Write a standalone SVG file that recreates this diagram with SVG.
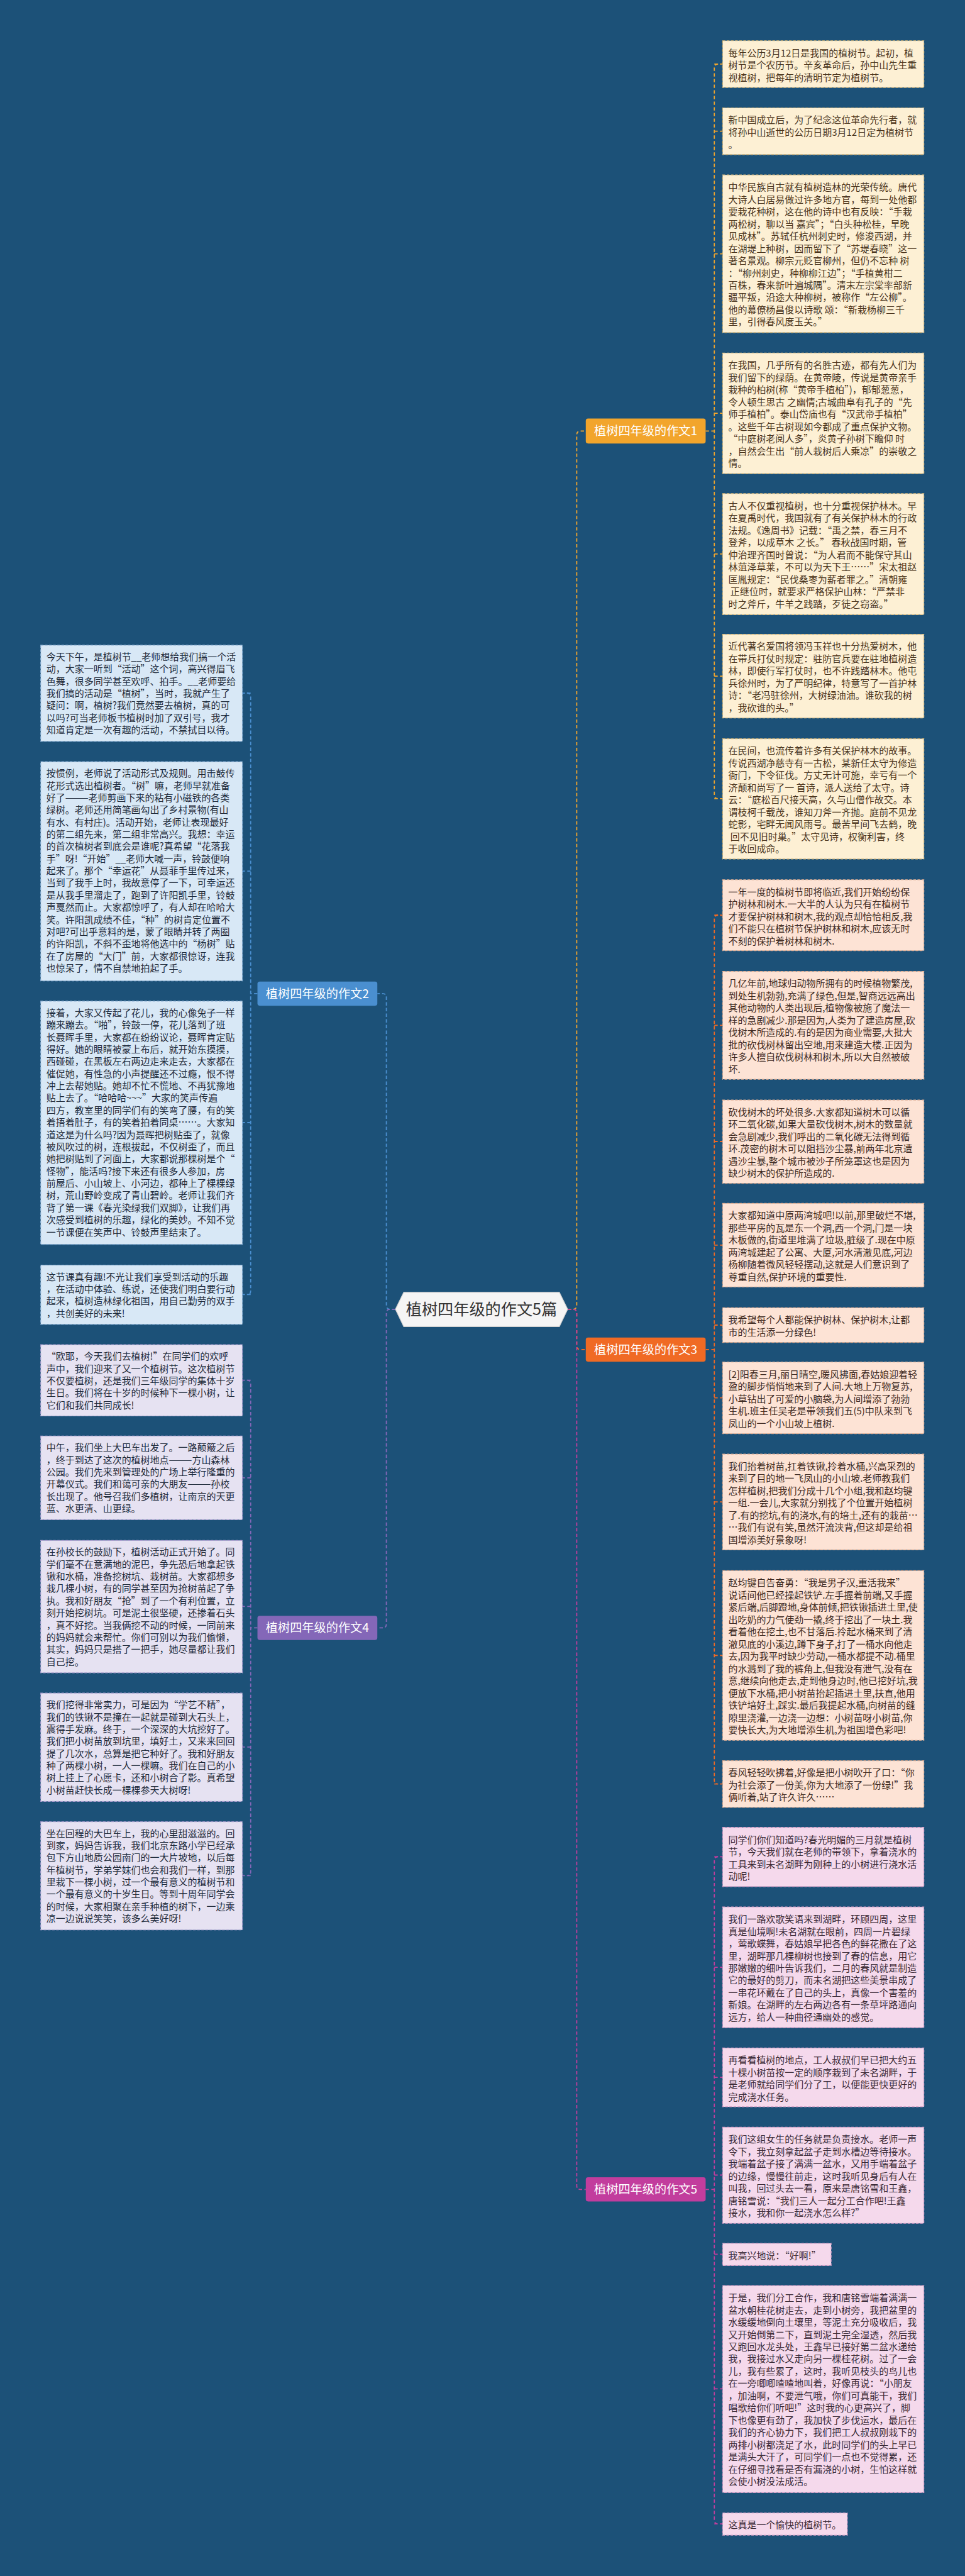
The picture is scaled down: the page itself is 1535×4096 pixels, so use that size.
<svg xmlns="http://www.w3.org/2000/svg" width="1535" height="4096" viewBox="0 0 1535 4096">
<style>
.bg{fill:#1c5178}
.tx{font-family:"Noto Sans CJK SC","Noto Sans",sans-serif;font-size:25px}
.tr{fill:#4a341c}
.tp{fill:#3e2a22}
.tk{fill:#3a2a36}
.tl{fill:#1e2a3a}
.bc{fill:#fdf0d4;stroke:#d8b878;stroke-width:2;stroke-dasharray:7 4}
.bp{fill:#fde3d5;stroke:#e0ad92;stroke-width:2;stroke-dasharray:7 4}
.bk{fill:#f5d9ec;stroke:#d49ac4;stroke-width:2;stroke-dasharray:7 4}
.bb{fill:#d8e8f6;stroke:#8fb4d8;stroke-width:2;stroke-dasharray:7 4}
.bv{fill:#e6e2f2;stroke:#ab9fd0;stroke-width:2;stroke-dasharray:7 4}
.cn{fill:none;stroke-width:3;stroke-dasharray:9 6}
.c1{stroke:#f2a52c}.c2{stroke:#4a8fd0}.c3{stroke:#f06a24}.c4{stroke:#8467b8}.c5{stroke:#c23d9d}
.bn{font-family:"Noto Sans CJK SC","Noto Sans",sans-serif;font-size:32px;fill:#ffffff}
.rt{font-family:"Noto Sans CJK SC","Noto Sans",sans-serif;font-size:42px;fill:#333333}
</style>
<rect class="bg" x="0" y="0" width="1535" height="4096"/>
<g transform="scale(0.5996)">
<g id="connectors">
<path class="cn c1" d="M1506 3472 H1520 Q1530 3472 1530 3462 V1153 Q1530 1143 1540 1143 H1554"/>
<path class="cn c3" d="M1506 3472 H1520 Q1530 3472 1530 3482 V3569 Q1530 3579 1540 3579 H1554"/>
<path class="cn c5" d="M1506 3472 H1520 Q1530 3472 1530 3482 V5796 Q1530 5806 1540 5806 H1554"/>
<path class="cn c2" d="M1049 3472 H1035 Q1025 3472 1025 3462 V2645 Q1025 2635 1015 2635 H1001"/>
<path class="cn c4" d="M1049 3472 H1035 Q1025 3472 1025 3482 V4307 Q1025 4317 1015 4317 H1001"/>
<path class="cn c1" d="M1872 1143 H1895 M1905 170 Q1895 170 1895 180 V2108 Q1895 2118 1905 2118 M1895 170 H1917 M1895 348 H1917 M1895 673 H1917 M1895 1096 H1917 M1895 1469 H1917 M1895 1793 H1917 M1895 2118 H1917"/>
<path class="cn c3" d="M1872 3579 H1895 M1905 2427 Q1895 2427 1895 2437 V4721 Q1895 4731 1905 4731 M1895 2427 H1917 M1895 2719 H1917 M1895 3027 H1917 M1895 3302 H1917 M1895 3514 H1917 M1895 3707 H1917 M1895 3983 H1917 M1895 4390 H1917 M1895 4731 H1917"/>
<path class="cn c5" d="M1872 5806 H1895 M1905 4924 Q1895 4924 1895 4934 V6683 Q1895 6693 1905 6693 M1895 4924 H1917 M1895 5217 H1917 M1895 5509 H1917 M1895 5768 H1917 M1895 5978 H1917 M1895 6335 H1917 M1895 6693 H1917"/>
<path class="cn c2" d="M683 2635 H665 M655 1838 Q665 1838 665 1848 V3423 Q665 3433 655 3433 M665 1838 H643 M665 2310 H643 M665 2977 H643 M665 3433 H643"/>
<path class="cn c4" d="M683 4317 H665 M655 3660 Q665 3660 665 3670 V4964 Q665 4974 655 4974 M665 3660 H643 M665 3919 H643 M665 4260 H643 M665 4633 H643 M665 4974 H643"/>
</g>
<g id="root">
<polygon points="1049,3472 1071,3427 1484,3427 1506,3472 1484,3518 1071,3518" fill="#f5f5f5" stroke="#d0d0d0" stroke-width="2"/>
<text class="rt" x="1277.5" y="3487" text-anchor="middle">植树四年级的作文5篇</text>
</g>
<g id="branch1">
<rect x="1554" y="1110" width="318" height="66" rx="6" fill="#f2a52c"/>
<text class="bn" x="1713" y="1154" text-anchor="middle">植树四年级的作文1</text>
</g>
<g id="branch2">
<rect x="683" y="2603" width="318" height="64" rx="6" fill="#4a8fd0"/>
<text class="bn" x="842" y="2646" text-anchor="middle">植树四年级的作文2</text>
</g>
<g id="branch3">
<rect x="1554" y="3547" width="318" height="64" rx="6" fill="#f06a24"/>
<text class="bn" x="1713" y="3590" text-anchor="middle">植树四年级的作文3</text>
</g>
<g id="branch4">
<rect x="683" y="4285" width="318" height="64" rx="6" fill="#8467b8"/>
<text class="bn" x="842" y="4328" text-anchor="middle">植树四年级的作文4</text>
</g>
<g id="branch5">
<rect x="1554" y="5774" width="318" height="64" rx="6" fill="#c23d9d"/>
<text class="bn" x="1713" y="5817" text-anchor="middle">植树四年级的作文5</text>
</g>
<g id="r1"><rect class="bc" x="1917" y="108" width="534" height="124"/>
<text class="tx tr"><tspan x="1932" y="149.5">每年公历3月12日是我国的植树节。起初，植</tspan><tspan x="1932" dy="32.5">树节是个农历节。辛亥革命后，孙中山先生重</tspan><tspan x="1932" dy="32.5">视植树，把每年的清明节定为植树节。</tspan></text></g>
<g id="r2"><rect class="bc" x="1917" y="286" width="534" height="124"/>
<text class="tx tr"><tspan x="1932" y="327.5">新中国成立后，为了纪念这位革命先行者，就</tspan><tspan x="1932" dy="32.5">将孙中山逝世的公历日期3月12日定为植树节</tspan><tspan x="1932" dy="32.5">。</tspan></text></g>
<g id="r3"><rect class="bc" x="1917" y="464" width="534" height="418"/>
<text class="tx tr"><tspan x="1932" y="505.5">中华民族自古就有植树造林的光荣传统。唐代</tspan><tspan x="1932" dy="32.5">大诗人白居易做过许多地方官，每到一处他都</tspan><tspan x="1932" dy="32.5">要栽花种树，这在他的诗中也有反映：“手栽</tspan><tspan x="1932" dy="32.5">两松树，聊以当 嘉宾”；“白头种松桂，早晚</tspan><tspan x="1932" dy="32.5">见成林”。苏轼任杭州刺史时，修浚西湖，并</tspan><tspan x="1932" dy="32.5">在湖堤上种树，因而留下了“苏堤春晓”这一</tspan><tspan x="1932" dy="32.5">著名景观。柳宗元贬官柳州，但仍不忘种 树</tspan><tspan x="1932" dy="32.5">：“柳州刺史，种柳柳江边”；“手植黄柑二</tspan><tspan x="1932" dy="32.5">百株，春来新叶遍城隅”。清末左宗棠率部新</tspan><tspan x="1932" dy="32.5">疆平叛，沿途大种柳树，被称作“左公柳”。</tspan><tspan x="1932" dy="32.5">他的幕僚杨昌俊以诗歌 颂：“新栽杨柳三千</tspan><tspan x="1932" dy="32.5">里，引得春风度玉关。”</tspan></text></g>
<g id="r4"><rect class="bc" x="1917" y="936" width="534" height="320"/>
<text class="tx tr"><tspan x="1932" y="977.5">在我国，几乎所有的名胜古迹，都有先人们为</tspan><tspan x="1932" dy="32.5">我们留下的绿荫。在黄帝陵，传说是黄帝亲手</tspan><tspan x="1932" dy="32.5">栽种的柏树(称“黄帝手植柏”)，郁郁葱葱，</tspan><tspan x="1932" dy="32.5">令人顿生思古 之幽情;古城曲阜有孔子的“先</tspan><tspan x="1932" dy="32.5">师手植柏”。泰山岱庙也有“汉武帝手植柏”</tspan><tspan x="1932" dy="32.5">。这些千年古树现如今都成了重点保护文物。</tspan><tspan x="1932" dy="32.5">“中庭树老阅人多”，炎黄子孙树下瞻仰 时</tspan><tspan x="1932" dy="32.5">，自然会生出“前人栽树后人乘凉”的崇敬之</tspan><tspan x="1932" dy="32.5">情。</tspan></text></g>
<g id="r5"><rect class="bc" x="1917" y="1309" width="534" height="321"/>
<text class="tx tr"><tspan x="1932" y="1350.5">古人不仅重视植树，也十分重视保护林木。早</tspan><tspan x="1932" dy="32.5">在夏禹时代，我国就有了有关保护林木的行政</tspan><tspan x="1932" dy="32.5">法规。《逸周书》记载：“禹之禁，春三月不</tspan><tspan x="1932" dy="32.5">登斧，以成草木 之长。” 春秋战国时期，管</tspan><tspan x="1932" dy="32.5">仲治理齐国时曾说：“为人君而不能保守其山</tspan><tspan x="1932" dy="32.5">林菹泽草莱，不可以为天下王……”宋太祖赵</tspan><tspan x="1932" dy="32.5">匡胤规定：“民伐桑枣为薪者罪之。”清朝雍</tspan><tspan x="1932" dy="32.5"> 正继位时，就要求严格保护山林：“严禁非</tspan><tspan x="1932" dy="32.5">时之斧斤，牛羊之践踏，歹徒之窃盗。”</tspan></text></g>
<g id="r6"><rect class="bc" x="1917" y="1682" width="534" height="222"/>
<text class="tx tr"><tspan x="1932" y="1723.5">近代著名爱国将领冯玉祥也十分热爱树木，他</tspan><tspan x="1932" dy="32.5">在带兵打仗时规定：驻防官兵要在驻地植树造</tspan><tspan x="1932" dy="32.5">林，即使行军打仗时，也不许践踏林木。他屯</tspan><tspan x="1932" dy="32.5">兵徐州时，为了严明纪律，特意写了一首护林</tspan><tspan x="1932" dy="32.5">诗：“老冯驻徐州，大树绿油油。谁砍我的树</tspan><tspan x="1932" dy="32.5">，我砍谁的头。”</tspan></text></g>
<g id="r7"><rect class="bc" x="1917" y="1959" width="534" height="319"/>
<text class="tx tr"><tspan x="1932" y="2000.5">在民间，也流传着许多有关保护林木的故事。</tspan><tspan x="1932" dy="32.5">传说西湖净慈寺有一古松，某新任太守为修造</tspan><tspan x="1932" dy="32.5">衙门，下令征伐。方丈无计可施，幸亏有一个</tspan><tspan x="1932" dy="32.5">济颠和尚写了一 首诗，派人送给了太守。诗</tspan><tspan x="1932" dy="32.5">云：“庭松百尺接天高，久与山僧作故交。本</tspan><tspan x="1932" dy="32.5">谓枝柯千载茂，谁知刀斧一齐抛。庭前不见龙</tspan><tspan x="1932" dy="32.5">蛇影，宅畔无闻风雨号。最苦早间飞去鹤，晚</tspan><tspan x="1932" dy="32.5"> 回不见旧时巢。”太守见诗，权衡利害，终</tspan><tspan x="1932" dy="32.5">于收回成命。</tspan></text></g>
<g id="r8"><rect class="bp" x="1917" y="2333" width="534" height="188"/>
<text class="tx tp"><tspan x="1932" y="2374.5">一年一度的植树节即将临近,我们开始纷纷保</tspan><tspan x="1932" dy="32.5">护树林和树木.一大半的人认为只有在植树节</tspan><tspan x="1932" dy="32.5">才要保护树林和树木,我的观点却恰恰相反,我</tspan><tspan x="1932" dy="32.5">们不能只在植树节保护树林和树木,应该无时</tspan><tspan x="1932" dy="32.5">不刻的保护着树林和树木.</tspan></text></g>
<g id="r9"><rect class="bp" x="1917" y="2576" width="534" height="286"/>
<text class="tx tp"><tspan x="1932" y="2617.5">几亿年前,地球归动物所拥有的时候植物繁茂,</tspan><tspan x="1932" dy="32.5">到处生机勃勃,充满了绿色,但是,智商远远高出</tspan><tspan x="1932" dy="32.5">其他动物的人类出现后,植物像被施了魔法一</tspan><tspan x="1932" dy="32.5">样的急剧减少.那是因为,人类为了建造房屋,砍</tspan><tspan x="1932" dy="32.5">伐树木所造成的.有的是因为商业需要,大批大</tspan><tspan x="1932" dy="32.5">批的砍伐树林留出空地,用来建造大楼.正因为</tspan><tspan x="1932" dy="32.5">许多人擅自砍伐树林和树木,所以大自然被破</tspan><tspan x="1932" dy="32.5">坏.</tspan></text></g>
<g id="r10"><rect class="bp" x="1917" y="2917" width="534" height="221"/>
<text class="tx tp"><tspan x="1932" y="2958.5">砍伐树木的坏处很多.大家都知道树木可以循</tspan><tspan x="1932" dy="32.5">环二氧化碳,如果大量砍伐树木,树木的数量就</tspan><tspan x="1932" dy="32.5">会急剧减少,我们呼出的二氧化碳无法得到循</tspan><tspan x="1932" dy="32.5">环.茂密的树木可以阻挡沙尘暴,前两年北京遭</tspan><tspan x="1932" dy="32.5">遇沙尘暴,整个城市被沙子所笼罩这也是因为</tspan><tspan x="1932" dy="32.5">缺少树木的保护所造成的.</tspan></text></g>
<g id="r11"><rect class="bp" x="1917" y="3191" width="534" height="222"/>
<text class="tx tp"><tspan x="1932" y="3232.5">大家都知道中原两湾城吧!以前,那里破烂不堪,</tspan><tspan x="1932" dy="32.5">那些平房的瓦是东一个洞,西一个洞,门是一块</tspan><tspan x="1932" dy="32.5">木板做的,街道里堆满了垃圾,脏级了.现在中原</tspan><tspan x="1932" dy="32.5">两湾城建起了公寓、大厦,河水清澈见底,河边</tspan><tspan x="1932" dy="32.5">杨柳随着微风轻轻摆动,这就是人们意识到了</tspan><tspan x="1932" dy="32.5">尊重自然,保护环境的重要性.</tspan></text></g>
<g id="r12"><rect class="bp" x="1917" y="3468" width="534" height="92"/>
<text class="tx tp"><tspan x="1932" y="3509.5">我希望每个人都能保护树林、保护树木,让都</tspan><tspan x="1932" dy="32.5">市的生活添一分绿色!</tspan></text></g>
<g id="r13"><rect class="bp" x="1917" y="3612" width="534" height="190"/>
<text class="tx tp"><tspan x="1932" y="3653.5">[2]阳春三月,丽日晴空,暖风拂面,春姑娘迎着轻</tspan><tspan x="1932" dy="32.5">盈的脚步悄悄地来到了人间.大地上万物复苏,</tspan><tspan x="1932" dy="32.5">小草钻出了可爱的小脑袋,为人间增添了勃勃</tspan><tspan x="1932" dy="32.5">生机.班主任吴老是带领我们五(5)中队来到飞</tspan><tspan x="1932" dy="32.5">凤山的一个小山坡上植树.</tspan></text></g>
<g id="r14"><rect class="bp" x="1917" y="3856" width="534" height="254"/>
<text class="tx tp"><tspan x="1932" y="3897.5">我们抬着树苗,扛着铁锹,拎着水桶,兴高采烈的</tspan><tspan x="1932" dy="32.5">来到了目的地一飞凤山的小山坡.老师教我们</tspan><tspan x="1932" dy="32.5">怎样植树,把我们分成十几个小组,我和赵均键</tspan><tspan x="1932" dy="32.5">一组.一会儿,大家就分别找了个位置开始植树</tspan><tspan x="1932" dy="32.5">了.有的挖坑,有的浇水,有的培土,还有的栽苗…</tspan><tspan x="1932" dy="32.5">…我们有说有笑,虽然汗流浃背,但这却是给祖</tspan><tspan x="1932" dy="32.5">国增添美好景象呀!</tspan></text></g>
<g id="r15"><rect class="bp" x="1917" y="4165" width="534" height="450"/>
<text class="tx tp"><tspan x="1932" y="4206.5">赵均键自告奋勇：“我是男子汉,重活我来”</tspan><tspan x="1932" dy="32.5">说话间他已经操起铁铲.左手握着前端,又手握</tspan><tspan x="1932" dy="32.5">紧后端,后脚蹬地,身体前倾,把铁锹插进土里,使</tspan><tspan x="1932" dy="32.5">出吃奶的力气使劲一撬,终于挖出了一块土.我</tspan><tspan x="1932" dy="32.5">看着他在挖土,也不甘落后.拎起水桶来到了清</tspan><tspan x="1932" dy="32.5">澈见底的小溪边,蹲下身子,打了一桶水向他走</tspan><tspan x="1932" dy="32.5">去,因为我平时缺少劳动,一桶水都提不动.桶里</tspan><tspan x="1932" dy="32.5">的水溅到了我的裤角上,但我没有泄气,没有在</tspan><tspan x="1932" dy="32.5">意,继续向他走去,走到他身边时,他已挖好坑,我</tspan><tspan x="1932" dy="32.5">便放下水桶,把小树苗抬起插进土里,扶直,他用</tspan><tspan x="1932" dy="32.5">铁铲培好土,踩实.最后我提起水桶,向树苗的缝</tspan><tspan x="1932" dy="32.5">隙里浇灌,一边浇一边想：小树苗呀小树苗,你</tspan><tspan x="1932" dy="32.5">要快长大,为大地增添生机,为祖国增色彩吧!</tspan></text></g>
<g id="r16"><rect class="bp" x="1917" y="4669" width="534" height="124"/>
<text class="tx tp"><tspan x="1932" y="4710.5">春风轻轻吹拂着,好像是把小树吹开了口：“你</tspan><tspan x="1932" dy="32.5">为社会添了一份美,你为大地添了一份绿!”我</tspan><tspan x="1932" dy="32.5">俩听着,站了许久许久……</tspan></text></g>
<g id="r17"><rect class="bk" x="1917" y="4846" width="534" height="157"/>
<text class="tx tk"><tspan x="1932" y="4887.5">同学们你们知道吗?春光明媚的三月就是植树</tspan><tspan x="1932" dy="32.5">节，今天我们就在老师的带领下，拿着浇水的</tspan><tspan x="1932" dy="32.5">工具来到未名湖畔为刚种上的小树进行浇水活</tspan><tspan x="1932" dy="32.5">动呢!</tspan></text></g>
<g id="r18"><rect class="bk" x="1917" y="5057" width="534" height="320"/>
<text class="tx tk"><tspan x="1932" y="5098.5">我们一路欢歌笑语来到湖畔，环顾四周，这里</tspan><tspan x="1932" dy="32.5">真是仙境啊!未名湖就在眼前，四周一片碧绿</tspan><tspan x="1932" dy="32.5">，莺歌蝶舞，春姑娘早把各色的鲜花撒在了这</tspan><tspan x="1932" dy="32.5">里，湖畔那几棵柳树也接到了春的信息，用它</tspan><tspan x="1932" dy="32.5">那嫩嫩的细叶告诉我们，二月的春风就是制造</tspan><tspan x="1932" dy="32.5">它的最好的剪刀，而未名湖把这些美景串成了</tspan><tspan x="1932" dy="32.5">一串花环戴在了自己的头上，真像一个害羞的</tspan><tspan x="1932" dy="32.5">新娘。在湖畔的左右两边各有一条草坪路通向</tspan><tspan x="1932" dy="32.5">远方，给人一种曲径通幽处的感觉。</tspan></text></g>
<g id="r19"><rect class="bk" x="1917" y="5431" width="534" height="156"/>
<text class="tx tk"><tspan x="1932" y="5472.5">再看看植树的地点，工人叔叔们早已把大约五</tspan><tspan x="1932" dy="32.5">十棵小树苗按一定的顺序栽到了未名湖畔，于</tspan><tspan x="1932" dy="32.5">是老师就给同学们分了工，以便能更快更好的</tspan><tspan x="1932" dy="32.5">完成浇水任务。</tspan></text></g>
<g id="r20"><rect class="bk" x="1917" y="5641" width="534" height="255"/>
<text class="tx tk"><tspan x="1932" y="5682.5">我们这组女生的任务就是负责接水。老师一声</tspan><tspan x="1932" dy="32.5">令下，我立刻拿起盆子走到水槽边等待接水。</tspan><tspan x="1932" dy="32.5">我端着盆子接了满满一盆水，又用手端着盆子</tspan><tspan x="1932" dy="32.5">的边缘，慢慢往前走，这时我听见身后有人在</tspan><tspan x="1932" dy="32.5">叫我，回过头去一看，原来是唐铭雪和王鑫，</tspan><tspan x="1932" dy="32.5">唐铭雪说：“我们三人一起分工合作吧!王鑫</tspan><tspan x="1932" dy="32.5">接水，我和你一起浇水怎么样?”</tspan></text></g>
<g id="r21"><rect class="bk" x="1917" y="5949" width="288" height="59"/>
<text class="tx tk"><tspan x="1932" y="5990">我高兴地说：“好啊!”</tspan></text></g>
<g id="r22"><rect class="bk" x="1917" y="6061" width="534" height="549"/>
<text class="tx tk"><tspan x="1932" y="6102.5">于是，我们分工合作，我和唐铭雪端着满满一</tspan><tspan x="1932" dy="32.5">盆水朝桂花树走去，走到小树旁，我把盆里的</tspan><tspan x="1932" dy="32.5">水缓缓地倒向土壤里，等泥土充分吸收后，我</tspan><tspan x="1932" dy="32.5">又开始倒第二下，直到泥土完全湿透，然后我</tspan><tspan x="1932" dy="32.5">又跑回水龙头处，王鑫早已接好第二盆水递给</tspan><tspan x="1932" dy="32.5">我，我接过水又走向另一棵桂花树。过了一会</tspan><tspan x="1932" dy="32.5">儿，我有些累了，这时，我听见枝头的鸟儿也</tspan><tspan x="1932" dy="32.5">在一旁唧唧喳喳地叫着，好像再说：“小朋友</tspan><tspan x="1932" dy="32.5">，加油啊，不要泄气哦，你们可真能干，我们</tspan><tspan x="1932" dy="32.5">唱歌给你们听吧!”这时我的心更高兴了，脚</tspan><tspan x="1932" dy="32.5">下也像更有劲了，我加快了步伐运水，最后在</tspan><tspan x="1932" dy="32.5">我们的齐心协力下，我们把工人叔叔刚栽下的</tspan><tspan x="1932" dy="32.5">两排小树都浇足了水，此时同学们的头上早已</tspan><tspan x="1932" dy="32.5">是满头大汗了，可同学们一点也不觉得累，还</tspan><tspan x="1932" dy="32.5">在仔细寻找看是否有漏浇的小树，生怕这样就</tspan><tspan x="1932" dy="32.5">会使小树没法成活。</tspan></text></g>
<g id="r23"><rect class="bk" x="1917" y="6664" width="331" height="59"/>
<text class="tx tk"><tspan x="1932" y="6705">这真是一个愉快的植树节。</tspan></text></g>
<g id="l1"><rect class="bb" x="108" y="1711" width="535" height="255"/>
<text class="tx tl"><tspan x="123" y="1751">今天下午，是植树节__老师想给我们搞一个活</tspan><tspan x="123" dy="32.3">动，大家一听到“活动”这个词，高兴得眉飞</tspan><tspan x="123" dy="32.3">色舞，很多同学甚至欢呼、拍手。__老师要给</tspan><tspan x="123" dy="32.3">我们搞的活动是“植树”，当时，我就产生了</tspan><tspan x="123" dy="32.3">疑问：啊，植树?我们竟然要去植树，真的可</tspan><tspan x="123" dy="32.3">以吗?可当老师板书植树时加了双引号，我才</tspan><tspan x="123" dy="32.3">知道肯定是一次有趣的活动，不禁拭目以待。</tspan></text></g>
<g id="l2"><rect class="bb" x="108" y="2020" width="535" height="581"/>
<text class="tx tl"><tspan x="123" y="2060">按惯例，老师说了活动形式及规则。用击鼓传</tspan><tspan x="123" dy="32.3">花形式选出植树者。“树”嘛，老师早就准备</tspan><tspan x="123" dy="32.3">好了———老师剪画下来的粘有小磁铁的各类</tspan><tspan x="123" dy="32.3">绿树。老师还用简笔画勾出了乡村景物(有山</tspan><tspan x="123" dy="32.3">有水、有村庄)。活动开始，老师让表现最好</tspan><tspan x="123" dy="32.3">的第二组先来，第二组非常高兴。我想：幸运</tspan><tspan x="123" dy="32.3">的首次植树者到底会是谁呢?真希望“花落我</tspan><tspan x="123" dy="32.3">手”呀!“开始”__老师大喊一声，铃鼓便响</tspan><tspan x="123" dy="32.3">起来了。那个“幸运花”从聂菲手里传过来，</tspan><tspan x="123" dy="32.3">当到了我手上时，我故意停了一下，可幸运还</tspan><tspan x="123" dy="32.3">是从我手里溜走了，跑到了许阳凯手里，铃鼓</tspan><tspan x="123" dy="32.3">声戛然而止。大家都惊呼了，有人却在哈哈大</tspan><tspan x="123" dy="32.3">笑。许阳凯成绩不佳，“种”的树肯定位置不</tspan><tspan x="123" dy="32.3">对吧?可出乎意料的是，蒙了眼睛并转了两圈</tspan><tspan x="123" dy="32.3">的许阳凯，不斜不歪地将他选中的“杨树”贴</tspan><tspan x="123" dy="32.3">在了房屋的“大门”前，大家都很惊讶，连我</tspan><tspan x="123" dy="32.3">也惊呆了，情不自禁地拍起了手。</tspan></text></g>
<g id="l3"><rect class="bb" x="108" y="2655" width="535" height="645"/>
<text class="tx tl"><tspan x="123" y="2695">接着，大家又传起了花儿，我的心像兔子一样</tspan><tspan x="123" dy="32.3">蹦来蹦去。“啪”，铃鼓一停，花儿落到了班</tspan><tspan x="123" dy="32.3">长聂晖手里，大家都在纷纷议论，聂晖肯定贴</tspan><tspan x="123" dy="32.3">得好。她的眼睛被蒙上布后，就开始东摸摸，</tspan><tspan x="123" dy="32.3">西碰碰，在黑板左右两边走来走去，大家都在</tspan><tspan x="123" dy="32.3">催促她，有性急的小声提醒还不过瘾，恨不得</tspan><tspan x="123" dy="32.3">冲上去帮她贴。她却不忙不慌地、不再犹豫地</tspan><tspan x="123" dy="32.3">贴上去了。“哈哈哈~~~”大家的笑声传遍</tspan><tspan x="123" dy="32.3">四方，教室里的同学们有的笑弯了腰，有的笑</tspan><tspan x="123" dy="32.3">着捂着肚子，有的笑着拍着同桌……。大家知</tspan><tspan x="123" dy="32.3">道这是为什么吗?因为聂晖把树贴歪了，就像</tspan><tspan x="123" dy="32.3">被风吹过的树，连根拔起，不仅树歪了，而且</tspan><tspan x="123" dy="32.3">她把树贴到了河面上，大家都说那棵树是个“</tspan><tspan x="123" dy="32.3">怪物”，能活吗?接下来还有很多人参加，房</tspan><tspan x="123" dy="32.3">前屋后、小山坡上、小河边，都种上了棵棵绿</tspan><tspan x="123" dy="32.3">树，荒山野岭变成了青山碧岭。老师让我们齐</tspan><tspan x="123" dy="32.3">背了第一课《春光染绿我们双脚》，让我们再</tspan><tspan x="123" dy="32.3">次感受到植树的乐趣，绿化的美妙。不知不觉</tspan><tspan x="123" dy="32.3">一节课便在笑声中、铃鼓声里结束了。</tspan></text></g>
<g id="l4"><rect class="bb" x="108" y="3355" width="535" height="157"/>
<text class="tx tl"><tspan x="123" y="3395">这节课真有趣!不光让我们享受到活动的乐趣</tspan><tspan x="123" dy="32.3">，在活动中体验、练说，还使我们明白要行动</tspan><tspan x="123" dy="32.3">起来，植树造林绿化祖国，用自己勤劳的双手</tspan><tspan x="123" dy="32.3">，共创美好的未来!</tspan></text></g>
<g id="l5"><rect class="bv" x="108" y="3566" width="535" height="189"/>
<text class="tx tl"><tspan x="123" y="3606">“欧耶，今天我们去植树!”在同学们的欢呼</tspan><tspan x="123" dy="32.3">声中，我们迎来了又一个植树节。这次植树节</tspan><tspan x="123" dy="32.3">不仅要植树，还是我们三年级同学的集体十岁</tspan><tspan x="123" dy="32.3">生日。我们将在十岁的时候种下一棵小树，让</tspan><tspan x="123" dy="32.3">它们和我们共同成长!</tspan></text></g>
<g id="l6"><rect class="bv" x="108" y="3808" width="535" height="222"/>
<text class="tx tl"><tspan x="123" y="3848">中午，我们坐上大巴车出发了。一路颠簸之后</tspan><tspan x="123" dy="32.3">，终于到达了这次的植树地点———方山森林</tspan><tspan x="123" dy="32.3">公园。我们先来到管理处的广场上举行隆重的</tspan><tspan x="123" dy="32.3">开幕仪式。我们和蔼可亲的大朋友———孙校</tspan><tspan x="123" dy="32.3">长出现了。他号召我们多植树，让南京的天更</tspan><tspan x="123" dy="32.3">蓝、水更清、山更绿。</tspan></text></g>
<g id="l7"><rect class="bv" x="108" y="4085" width="535" height="351"/>
<text class="tx tl"><tspan x="123" y="4125">在孙校长的鼓励下，植树活动正式开始了。同</tspan><tspan x="123" dy="32.3">学们毫不在意满地的泥巴，争先恐后地拿起铁</tspan><tspan x="123" dy="32.3">锹和水桶，准备挖树坑、栽树苗。大家都想多</tspan><tspan x="123" dy="32.3">栽几棵小树，有的同学甚至因为抢树苗起了争</tspan><tspan x="123" dy="32.3">执。我和好朋友“抢”到了一个有利位置，立</tspan><tspan x="123" dy="32.3">刻开始挖树坑。可是泥土很坚硬，还掺着石头</tspan><tspan x="123" dy="32.3">，真不好挖。当我俩挖不动的时候，一同前来</tspan><tspan x="123" dy="32.3">的妈妈就会来帮忙。你们可别以为我们偷懒，</tspan><tspan x="123" dy="32.3">其实，妈妈只是搭了一把手，她尽量都让我们</tspan><tspan x="123" dy="32.3">自己挖。</tspan></text></g>
<g id="l8"><rect class="bv" x="108" y="4490" width="535" height="287"/>
<text class="tx tl"><tspan x="123" y="4530">我们挖得非常卖力，可是因为“学艺不精”，</tspan><tspan x="123" dy="32.3">我们的铁锹不是撞在一起就是碰到大石头上，</tspan><tspan x="123" dy="32.3">震得手发麻。终于，一个深深的大坑挖好了。</tspan><tspan x="123" dy="32.3">我们把小树苗放到坑里，填好土，又来来回回</tspan><tspan x="123" dy="32.3">提了几次水，总算是把它种好了。我和好朋友</tspan><tspan x="123" dy="32.3">种了两棵小树，一人一棵嘛。我们在自己的小</tspan><tspan x="123" dy="32.3">树上挂上了心愿卡，还和小树合了影。真希望</tspan><tspan x="123" dy="32.3">小树苗赶快长成一棵棵参天大树呀!</tspan></text></g>
<g id="l9"><rect class="bv" x="108" y="4831" width="535" height="287"/>
<text class="tx tl"><tspan x="123" y="4871">坐在回程的大巴车上，我的心里甜滋滋的。回</tspan><tspan x="123" dy="32.3">到家，妈妈告诉我，我们北京东路小学已经承</tspan><tspan x="123" dy="32.3">包下方山地质公园南门的一大片坡地，以后每</tspan><tspan x="123" dy="32.3">年植树节，学弟学妹们也会和我们一样，到那</tspan><tspan x="123" dy="32.3">里栽下一棵小树，过一个最有意义的植树节和</tspan><tspan x="123" dy="32.3">一个最有意义的十岁生日。等到十周年同学会</tspan><tspan x="123" dy="32.3">的时候，大家相聚在亲手种植的树下，一边乘</tspan><tspan x="123" dy="32.3">凉一边说说笑笑，该多么美好呀!</tspan></text></g>
</g>
</svg>
